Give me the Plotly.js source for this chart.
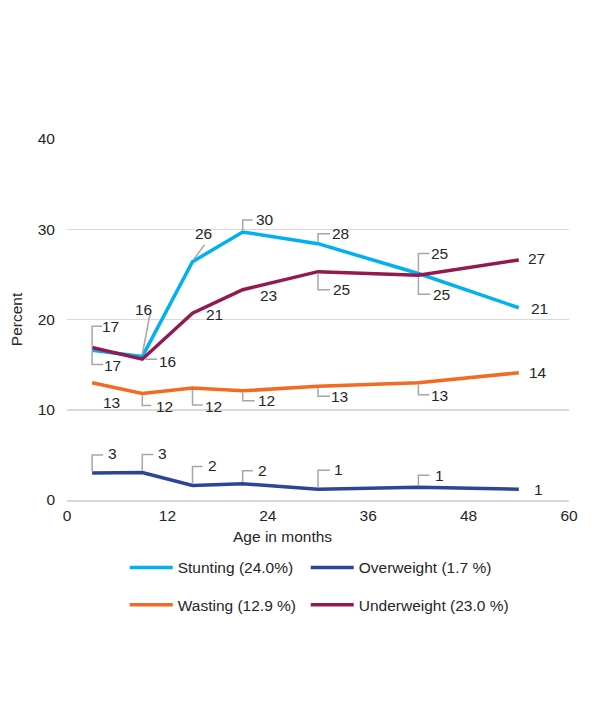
<!DOCTYPE html>
<html>
<head>
<meta charset="utf-8">
<script src="https://cdn.plot.ly/plotly-3.0.1.min.js"></script>
<style>
  html, body { margin: 0; padding: 0; background: #ffffff; }
  #chart { width: 608px; height: 711px; }
</style>
</head>
<body>
<div id="chart"></div>
<script>
// ---------- DATA ----------
const months = [3, 9, 15, 21, 30, 42, 54];
const stunting = [16.6, 15.9, 26.4, 29.7, 28.4, 25.1, 21.3];
const overweight = [3.0, 3.05, 1.6, 1.8, 1.2, 1.4, 1.2];
const wasting = [13.0, 11.8, 12.4, 12.1, 12.6, 13.0, 14.1];
const underweight = [16.9, 15.6, 20.7, 23.3, 25.3, 24.9, 26.6];
const seriesNames = ['Stunting (24.0%)', 'Overweight (1.7 %)', 'Wasting (12.9 %)', 'Underweight (23.0 %)'];
const xTickVals = [0, 12, 24, 36, 48, 60];
const yTickVals = [0, 10, 20, 30, 40];
const xTitle = 'Age in months';
const yTitle = 'Percent';

// ---------- LABEL PLACEMENT (pixel offsets, screen y down) ----------
function br(v, h) { return [[0, v > 0 ? 2 : -2], [0, v], [h, v]]; }
const stuntingPos = [
  {dx: 18, dy: -24, lead: br(-24, 10)},
  {dx: 1, dy: -47, lead: [[0, -2], [8, -44]]},
  {dx: 11, dy: -28, lead: [[1, -2], [12, -17]]},
  {dx: 22, dy: -12, lead: br(-12, 10)},
  {dx: 22, dy: -10, lead: br(-10, 12)},
  {dx: 21, dy: -20, lead: br(-20, 11)},
  {dx: 21, dy: 1}
];
const underweightPos = [
  {dx: 20, dy: 18, lead: br(17, 11)},
  {dx: 25, dy: 2, lead: [[3, 0], [15, 0]]},
  {dx: 22, dy: 1},
  {dx: 26, dy: 6},
  {dx: 23, dy: 18, lead: br(18, 12)},
  {dx: 23, dy: 19, lead: br(19, 12)},
  {dx: 18, dy: -1}
];
const wastingPos = [
  {dx: 19, dy: 20},
  {dx: 22, dy: 13, lead: br(12, 9)},
  {dx: 21, dy: 18, lead: br(17, 10)},
  {dx: 24, dy: 10, lead: br(10, 12)},
  {dx: 21, dy: 10, lead: br(10, 12)},
  {dx: 21, dy: 13, lead: br(12, 11)},
  {dx: 19, dy: 0}
];
const overweightPos = [
  {dx: 20, dy: -19, lead: br(-18, 11)},
  {dx: 20, dy: -19, lead: br(-18, 11)},
  {dx: 20, dy: -20, lead: br(-19, 10)},
  {dx: 20, dy: -13, lead: br(-13, 10)},
  {dx: 20, dy: -20, lead: br(-19, 12)},
  {dx: 21, dy: -12, lead: br(-12, 11)},
  {dx: 20, dy: 0}
];

// ---------- STYLES ----------
const colors = {stunting: '#00b0f0', overweight: '#2e4496', wasting: '#f26b21', underweight: '#931a4f'};
const textColor = '#262626';
const gridColor = '#d9d9d9';
const leaderColor = '#a6a6a6';
const fontFamily = 'Liberation Sans, Arial, sans-serif';
const fs = 15.5;

const series = [
  {name: seriesNames[0], y: stunting, color: colors.stunting, pos: stuntingPos, legend: 'legend', lw: 123},
  {name: seriesNames[1], y: overweight, color: colors.overweight, pos: overweightPos, legend: 'legend', lw: 170},
  {name: seriesNames[2], y: wasting, color: colors.wasting, pos: wastingPos, legend: 'legend2', lw: 123},
  {name: seriesNames[3], y: underweight, color: colors.underweight, pos: underweightPos, legend: 'legend2', lw: 170}
];

const traces = series.map(s => ({
  type: 'scatter', mode: 'lines', x: months, y: s.y, name: s.name,
  line: {color: s.color, width: 3.5}, legend: s.legend, legendwidth: s.lw, hoverinfo: 'x+y+name'
}));

const annotations = [];
const shapes = [];
series.forEach(s => {
  s.y.forEach((v, i) => {
    const p = s.pos[i];
    annotations.push({
      xref: 'x', yref: 'y', x: months[i], y: v, text: String(Math.round(v)),
      showarrow: false, xanchor: 'center', yanchor: 'middle',
      xshift: p.dx, yshift: -p.dy, font: {size: fs, color: textColor, family: fontFamily}
    });
    if (p.lead) {
      const path = p.lead.map((pt, k) => (k === 0 ? 'M' : 'L') + pt[0] + ',' + (-pt[1])).join(' ');
      shapes.push({
        type: 'path', xref: 'x', yref: 'y', xsizemode: 'pixel', ysizemode: 'pixel',
        xanchor: months[i], yanchor: v, path: path,
        line: {color: leaderColor, width: 1.5}, layer: 'above'
      });
    }
  });
});

annotations.push({
  xref: 'paper', yref: 'paper', x: 0.43, y: -0.102, text: xTitle, showarrow: false,
  xanchor: 'center', yanchor: 'middle', font: {size: fs, color: textColor, family: fontFamily}
});

const legendCommon = {
  orientation: 'h', xanchor: 'left', yanchor: 'middle', x: 0.115,
  entrywidthmode: 'pixels', itemwidth: 43,
  font: {size: fs, color: textColor, family: fontFamily}, bgcolor: 'rgba(0,0,0,0)'
};

const layout = {
  width: 608, height: 711,
  margin: {l: 67, r: 39, t: 139, b: 211},
  paper_bgcolor: '#ffffff', plot_bgcolor: '#ffffff',
  font: {family: fontFamily, size: fs, color: textColor},
  showlegend: true,
  legend: Object.assign({}, legendCommon, {y: -0.188}),
  legend2: Object.assign({}, legendCommon, {y: -0.291}),
  xaxis: {
    range: [0, 60], tickvals: xTickVals, ticks: '', showgrid: false, zeroline: false,
    showline: true, linecolor: gridColor, linewidth: 1.5, ticklabelstandoff: 1,
    tickfont: {size: fs, color: textColor}, fixedrange: true
  },
  yaxis: {
    range: [0, 40], tickvals: yTickVals, ticks: '', showgrid: true, gridcolor: gridColor,
    gridwidth: 1.5, zeroline: false, showline: false, ticklabelstandoff: 11,
    tickfont: {size: fs, color: textColor},
    title: {text: yTitle, font: {size: fs, color: textColor}, standoff: 11}, fixedrange: true
  },
  annotations: annotations,
  shapes: shapes
};

Plotly.newPlot('chart', traces, layout, {displayModeBar: false, staticPlot: true});
</script>
</body>
</html>
